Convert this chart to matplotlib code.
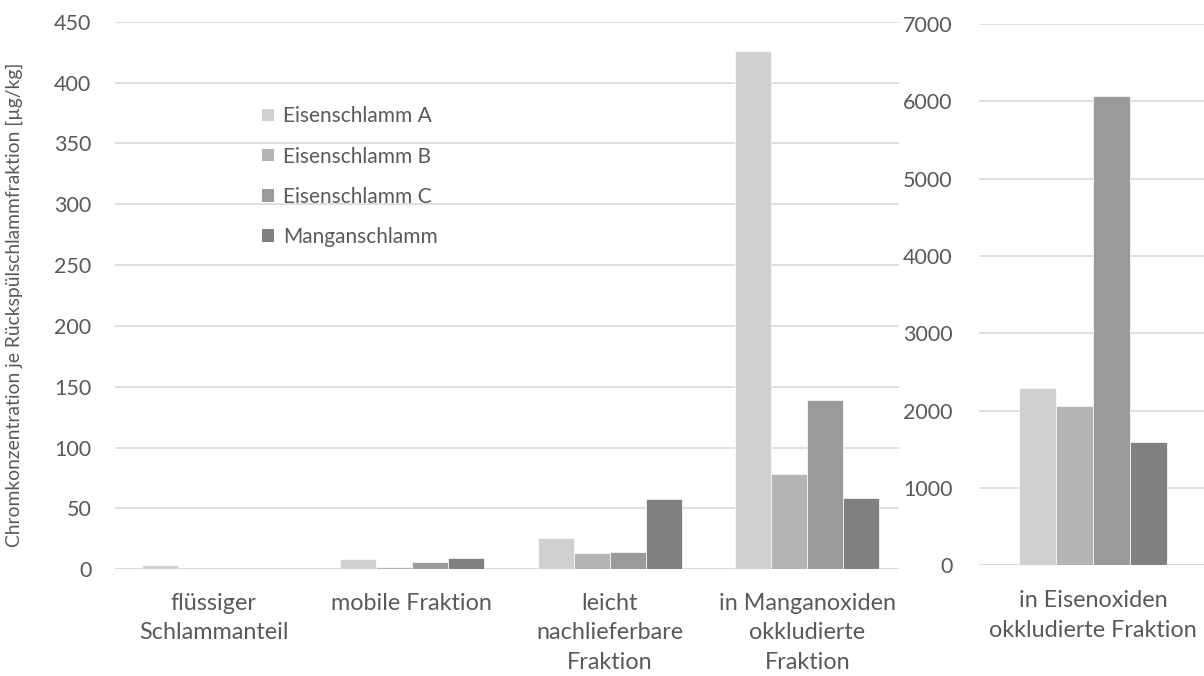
import matplotlib
matplotlib.use("Agg")
import matplotlib.pyplot as plt
import numpy as np
from matplotlib.patches import Patch

plt.rcParams['font.family'] = ['Lato', 'DejaVu Sans']

categories_left = ["flüssiger\nSchlammanteil", "mobile Fraktion",
                   "leicht\nnachlieferbare\nFraktion",
                   "in Manganoxiden\nokkludierte\nFraktion"]
category_right = ["in Eisenoxiden\nokkludierte Fraktion"]
series = ["Eisenschlamm A", "Eisenschlamm B", "Eisenschlamm C", "Manganschlamm"]
colors = ["#d0d0d0", "#b4b4b4", "#9a9a9a", "#808080"]

eisen_a = [3.8, 8.5, 25.6, 425.7]
eisen_b = [0.0, 1.9, 13.2, 78.1]
eisen_c = [0.0, 6.0, 14.4, 139.5]
mangan = [0.0, 9.3, 57.6, 58.5]
left_values = [eisen_a, eisen_b, eisen_c, mangan]

right_values = [2298, 2065, 6071, 1598]

left_ticks = list(range(0, 451, 50))
right_ticks = list(range(0, 7001, 1000))

text_col = "#595959"
grid_col = "#d9d9d9"
fs_tick = 15.5
fs_cat = 16.8

W, H = 1204, 676
fig = plt.figure(figsize=(W / 100, H / 100), dpi=100)

# left axes
l_left, l_right, base, top = 115, 899, 569.3, 21.7
ax = fig.add_axes([l_left / W, 1 - base / H, (l_right - l_left) / W, (base - top) / H])
x = np.arange(len(categories_left))
bw = 0.182
for i, (vals, c) in enumerate(zip(left_values, colors)):
    ax.bar(x + (i - 1.5) * bw, vals, width=bw, color=c, edgecolor="white",
           linewidth=0.5, zorder=3, label=series[i])
ax.set_xlim(-0.4995, 3.463)
ax.set_ylim(0, 450)
ax.set_yticks(left_ticks)
ax.set_xticks(x)
ax.set_xticklabels(categories_left, fontsize=fs_cat, color=text_col, linespacing=1.5)
ax.tick_params(axis='x', length=0, pad=17)
ax.tick_params(axis='y', length=0, pad=17, labelsize=fs_tick, labelcolor=text_col)
ax.grid(axis='y', color=grid_col, linewidth=1.2, zorder=0)
for s in ax.spines.values():
    s.set_visible(False)
ax.axhline(0, color=grid_col, linewidth=1.2, zorder=2)
ax.set_ylabel("Chromkonzentration je Rückspülschlammfraktion [µg/kg]",
              fontsize=13.9, color=text_col)
ax.yaxis.set_label_coords(-92 / (l_right - l_left), (base - 305) / (base - top))

handles = [Patch(facecolor=c, edgecolor='none') for c in colors]
leg = ax.legend(handles, series, loc='upper left',
                bbox_to_anchor=((254 - l_left) / (l_right - l_left), (base - 98) / (base - top)),
                frameon=False, fontsize=15, labelspacing=0.97, handlelength=0.55,
                handleheight=0.55, handletextpad=0.45, borderaxespad=0)
for t in leg.get_texts():
    t.set_color(text_col)

# right axes
r_left, r_right, rbase, rtop = 979, 1204, 565.3, 24
ax2 = fig.add_axes([r_left / W, 1 - rbase / H, (r_right - r_left) / W, (rbase - rtop) / H])
rbw = 0.1644
for i, (v, c) in enumerate(zip(right_values, colors)):
    ax2.bar([(i - 1.5) * rbw], [v], width=rbw, color=c, edgecolor="white",
            linewidth=0.5, zorder=3)
ax2.set_xlim(-(1093 - r_left) / (r_right - r_left), (r_right - 1093) / (r_right - r_left))
ax2.set_ylim(0, 7000)
ax2.set_yticks(right_ticks)
ax2.set_xticks([0])
ax2.set_xticklabels(category_right, fontsize=fs_cat, color=text_col, linespacing=1.5)
ax2.tick_params(axis='x', length=0, pad=18)
ax2.tick_params(axis='y', length=0, pad=19, labelsize=fs_tick, labelcolor=text_col)
ax2.grid(axis='y', color=grid_col, linewidth=1.2, zorder=0)
for s in ax2.spines.values():
    s.set_visible(False)
ax2.axhline(0, color=grid_col, linewidth=1.2, zorder=2)

fig.savefig("out.png", dpi=100)
